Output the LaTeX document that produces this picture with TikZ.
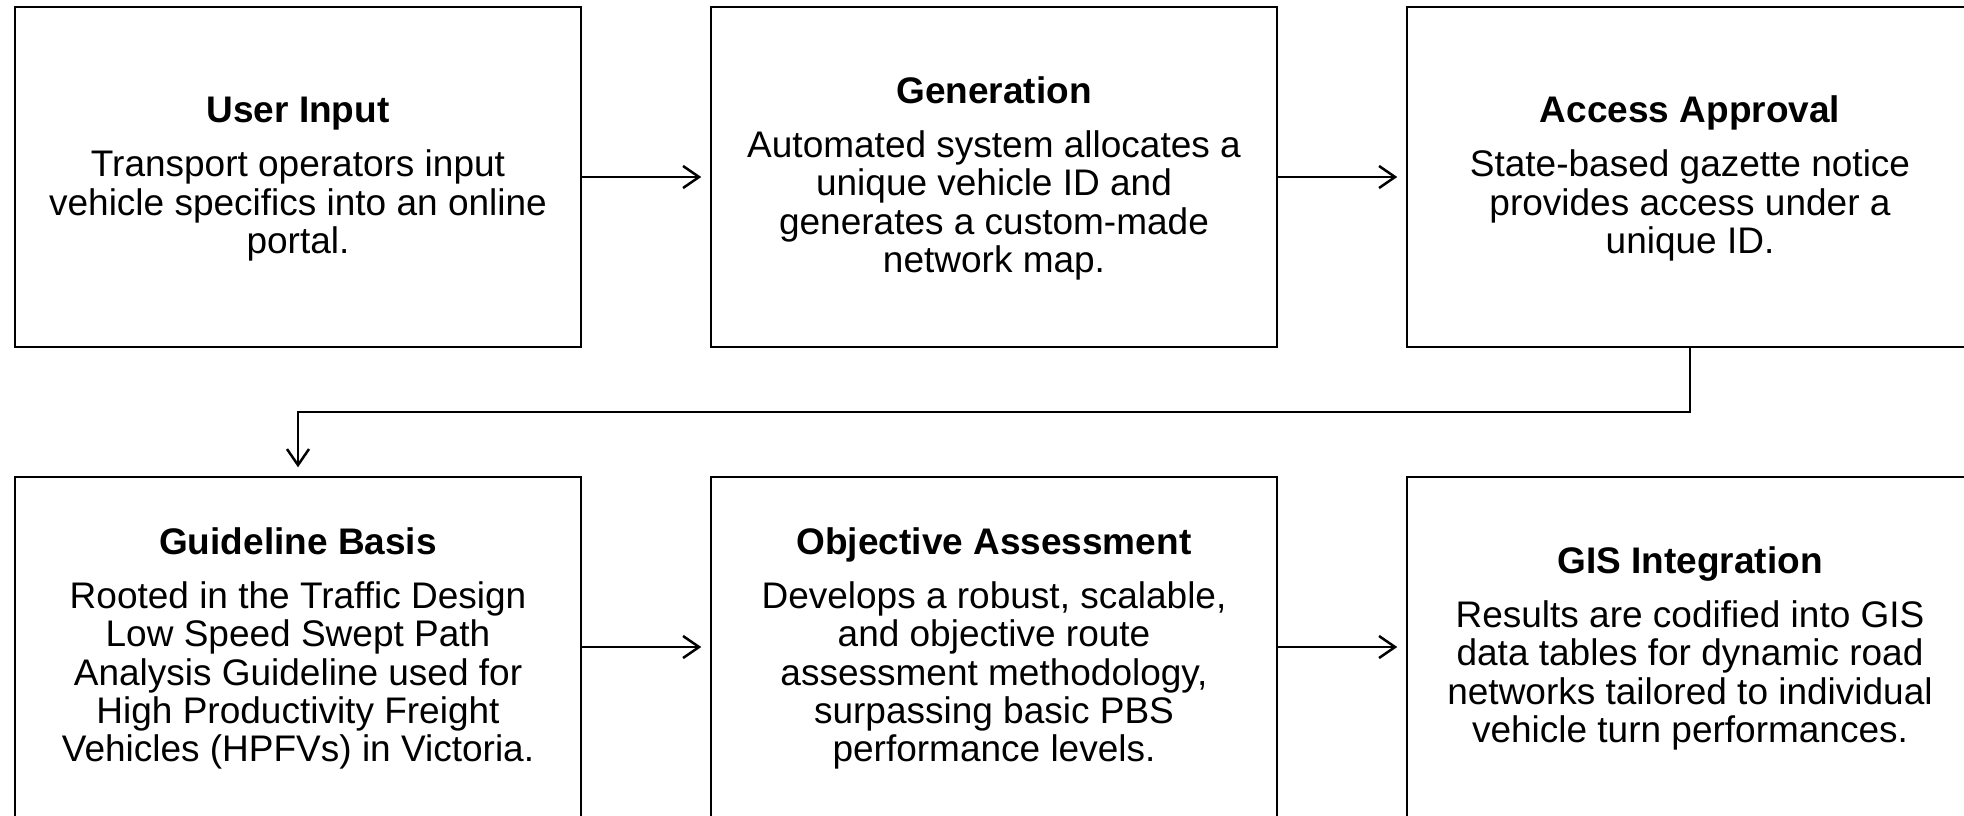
\documentclass[tikz,border=0pt]{standalone}
\usepackage{fontspec}
\setmainfont{Liberation Sans}
\usetikzlibrary{arrows.meta}
\newcommand\boxttl[1]{\rule{0pt}{29.7pt}\textbf{#1}\\[15.7pt]}
\begin{document}
\begin{tikzpicture}[x=1pt,y=-1pt,
  box/.style={draw, line width=2.5pt, minimum width=566pt, minimum height=340pt,
    inner sep=0pt, align=center, font=\fontsize{37}{38.3}\selectfont},
  conn/.style={line width=2.5pt, -{Straight Barb[length=16pt,width=22pt]}, shorten >=8.5pt}]
\useasboundingbox (0,0) rectangle (1964,815);
\fill[white] (0,0) rectangle (1964,815);
\node[box] (b1) at (298,177) {\boxttl{User Input}Transport operators input\\vehicle specifics into an online\\portal.};
\node[box] (b2) at (994,177) {\boxttl{Generation}Automated system allocates a\\unique vehicle ID and\\generates a custom-made\\network map.};
\node[box] (b3) at (1690,177) {\boxttl{Access Approval}State-based gazette notice\\provides access under a\\unique ID.};
\node[box] (b4) at (298,647) {\boxttl{Guideline Basis}Rooted in the Traffic Design\\Low Speed Swept Path\\Analysis Guideline used for\\High Productivity Freight\\Vehicles (HPFVs) in Victoria.};
\node[box] (b5) at (994,647) {\boxttl{Objective Assessment}Develops a robust, scalable,\\and objective route\\assessment methodology,\\surpassing basic PBS\\performance levels.};
\node[box] (b6) at (1690,647) {\boxttl{GIS Integration}Results are codified into GIS\\data tables for dynamic road\\networks tailored to individual\\vehicle turn performances.};
\coordinate (mid) at (0,412);
\draw[conn] (b1.east) -- (b2.west);
\draw[conn] (b2.east) -- (b3.west);
\draw[conn] (b3.south) -- (b3.south |- mid) -- (b4.north |- mid) -- (b4.north);
\draw[conn] (b4.east) -- (b5.west);
\draw[conn] (b5.east) -- (b6.west);
\end{tikzpicture}
\end{document}
